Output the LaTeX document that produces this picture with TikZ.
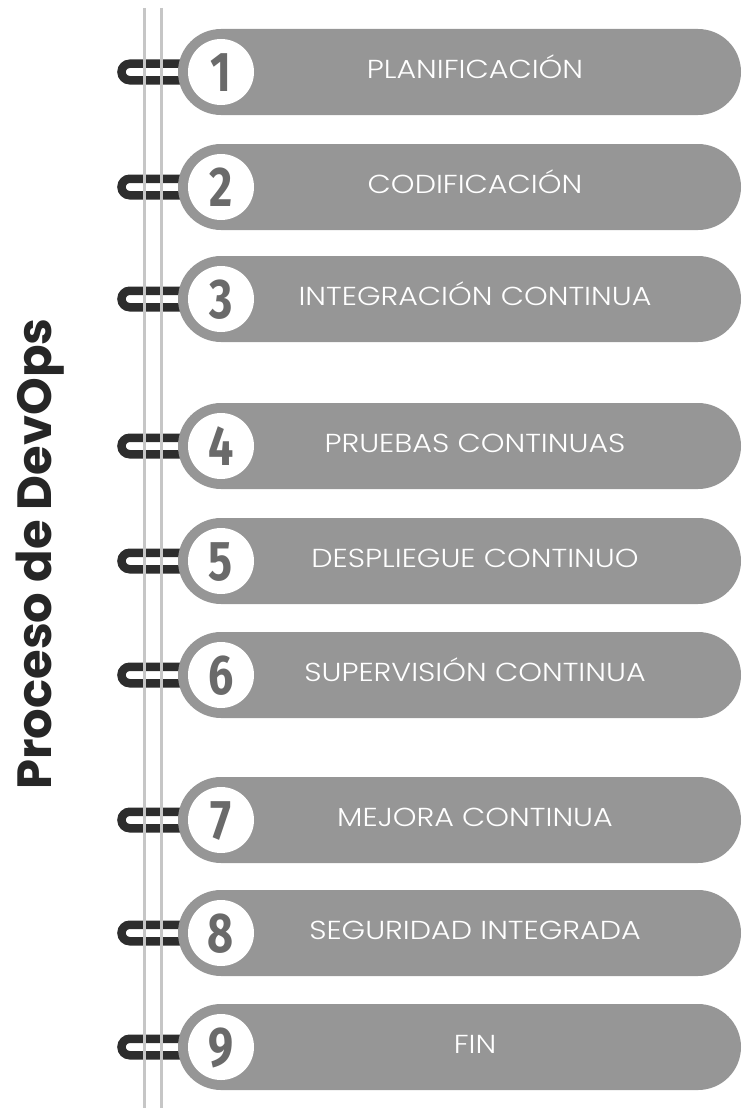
\documentclass[tikz,border=0pt]{standalone}
\usepackage{fontspec}
\usetikzlibrary{calc}
\newfontfamily\titlefont{Poppins}
\newfontfamily\pillfont{Poppins Light}
\newfontfamily\digitfont{Fira Sans}
\definecolor{pillgray}{HTML}{969696}
\definecolor{digitgray}{HTML}{6A6A6A}
\definecolor{hookdark}{HTML}{2D2D2D}
\definecolor{railgray}{HTML}{C6C6C6}
\definecolor{titledark}{HTML}{262626}
\tikzset{
  pill/.style={fill=pillgray, draw=none, rounded corners=43pt,
    minimum width=563pt, minimum height=86pt, inner sep=0pt},
  badge/.style={circle, fill=white, draw=none, minimum size=66pt, inner sep=0pt},
  digit/.style={text=digitgray, font=\digitfont\bfseries\fontsize{56}{56}\selectfont,
    inner sep=0pt, anchor=base, xscale=0.8},
  label/.style={text=white, font=\pillfont\fontsize{26}{26}\selectfont,
    inner sep=0pt, anchor=base, xscale=1.16},
  hook/.style={draw=hookdark, line width=8.5pt, line cap=butt},
  rail/.style={draw=railgray, line width=3pt},
}
\begin{document}
\begin{tikzpicture}[x=1pt,y=-1pt]
\useasboundingbox (0,0) rectangle (742,1108);
% stage tags hanging on the binder
\foreach \n/\y/\txt in {1/72/PLANIFICACIÓN, 2/187/CODIFICACIÓN, 3/299/INTEGRACIÓN CONTINUA,
    4/446/PRUEBAS CONTINUAS, 5/561/DESPLIEGUE CONTINUO, 6/675/SUPERVISIÓN CONTINUA,
    7/820/MEJORA CONTINUA, 8/933/SEGURIDAD INTEGRADA, 9/1047/FIN}{
  \coordinate (k\n) at (221,\y);
  \draw[hook] ($(k\n)+(0,-8.25)$) -- ++(-91.25,0) arc(270:90:8.25) -- ($(k\n)+(0,8.25)$);
  \node[pill] (p\n) at (459.5,\y) {};
  \node[badge] (c\n) at (k\n) {};
  \node[digit] (d\n) at ($(c\n.center)+(0,19.5)$) {\n};
  \node[label] (t\n) at (475,\y+6) {\txt};
}
% binder rails
\coordinate (r1top) at (144,8);
\coordinate (r1bot) at (144,1108);
\coordinate (r2top) at (161,8);
\coordinate (r2bot) at (161,1108);
\draw[rail] (r1top) -- (r1bot);
\draw[rail] (r2top) -- (r2bot);
% title
\node[rotate=90, anchor=base, text=titledark, inner sep=0pt,
  font=\titlefont\bfseries\fontsize{48}{48}\selectfont] (title) at (51,554) {Proceso de DevOps};
\end{tikzpicture}
\end{document}
